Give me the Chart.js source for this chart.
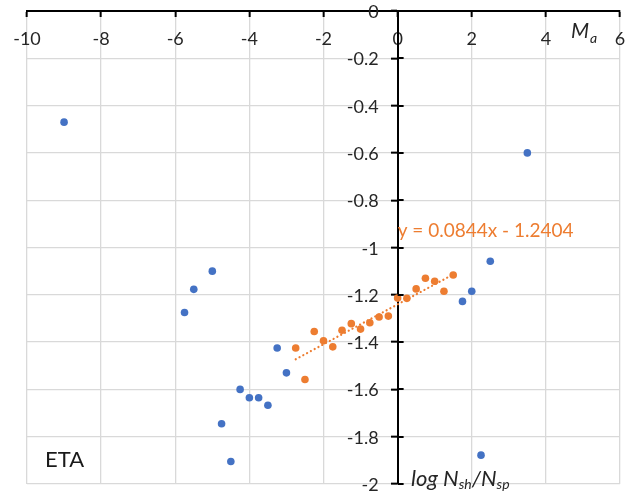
<!DOCTYPE html>
<html>
<head>
<meta charset="utf-8">
<title>ETA</title>
<script src="https://cdn.jsdelivr.net/npm/chart.js@4.4.1/dist/chart.umd.min.js"></script>
<style>
    html, body { margin: 0; padding: 0; background: #fff; }
    #wrap { width: 634px; height: 492px; }
</style>
</head>
<body>
<div id="wrap"><canvas id="eta-chart" width="634" height="492"></canvas></div>
<script>
// blue series (all galaxies)
const blueX = [-9, 3.5, -5, -5.5, -5.75, -3.25, -3, -4.25, -4, -3.75, -3.5, -4.75, -4.5, 2.5, 1.75, 2, 2.25];
const blueY = [-0.47, -0.60, -1.10, -1.177, -1.275, -1.425, -1.53, -1.60, -1.635, -1.635, -1.667, -1.745, -1.905, -1.058, -1.228, -1.185, -1.878];

// orange series (fitted subset)
const orangeX = [-2.75, -2.5, -2.25, -2, -1.75, -1.5, -1.25, -1, -0.75, -0.5, -0.25, 0, 0.25, 0.5, 0.75, 1, 1.25, 1.5];
const orangeY = [-1.425, -1.558, -1.355, -1.394, -1.42, -1.35, -1.322, -1.345, -1.318, -1.294, -1.29, -1.214, -1.215, -1.175, -1.13, -1.143, -1.185, -1.116];

// linear trendline shown on the chart
const trendSlope = 0.0844;
const trendIntercept = -1.2404;
const trendLabel = 'y = 0.0844x - 1.2404';

// axes
const xRange = [-10, 6];
const xStep = 2;
const yRange = [-2, 0];
const yStep = 0.2;

const BLUE = '#4472C4';
const ORANGE = '#ED7D31';
const TEXT = '#262626';
const FONT = 'Lato, "Liberation Sans", sans-serif';

function toPoints(xs, ys) {
    return xs.map((x, i) => ({ x: x, y: ys[i] }));
}

function trendPoints() {
    const x0 = Math.min(...orangeX);
    const x1 = Math.max(...orangeX);
    return [x0, x1].map(x => ({ x: x, y: trendSlope * x + trendIntercept }));
}

function formatTick(value) {
    return String(+value.toFixed(1));
}

// y axis sits at x = 0: Chart.js only draws the left half of its ticks and
// puts the labels right on the axis line, so finish those here
const yAxisExtras = {
    id: 'yAxisExtras',
    afterDraw(chart) {
        const { ctx, scales: { x, y } } = chart;
        const x0 = x.getPixelForValue(0);
        ctx.save();
        ctx.strokeStyle = '#000';
        ctx.lineWidth = 2;
        ctx.fillStyle = TEXT;
        ctx.font = '18px ' + FONT;
        ctx.textAlign = 'right';
        ctx.textBaseline = 'middle';
        y.ticks.forEach(t => {
            const py = Math.round(y.getPixelForValue(t.value));
            ctx.beginPath();
            ctx.moveTo(x0, py);
            ctx.lineTo(x0 + 6, py);
            ctx.stroke();
            ctx.fillText(formatTick(t.value), x0 - 19, py + 1);
        });
        ctx.restore();
    }
};

// text boxes: equation, panel name, axis titles
const annotations = {
    id: 'annotations',
    afterDraw(chart) {
        const { ctx, scales: { x, y } } = chart;
        ctx.save();

        ctx.fillStyle = ORANGE;
        ctx.font = '19px ' + FONT;
        ctx.textBaseline = 'middle';
        ctx.textAlign = 'left';
        ctx.fillText(trendLabel, x.getPixelForValue(0), y.getPixelForValue(-0.928));

        ctx.fillStyle = '#1a1a1a';
        ctx.font = '22px ' + FONT;
        ctx.fillText('ETA', 45, y.getPixelForValue(-1.9));

        ctx.fillStyle = TEXT;
        ctx.textBaseline = 'alphabetic';
        let px = 571;
        ctx.font = 'italic 21px ' + FONT;
        ctx.fillText('M', px, 38);
        px += ctx.measureText('M').width + 1;
        ctx.font = 'italic 14px ' + FONT;
        ctx.fillText('a', px, 43);

        px = 411;
        const parts = [
            ['log N', 22, 486],
            ['sh', 14, 489],
            ['/N', 22, 486],
            ['sp', 14, 489]
        ];
        parts.forEach(p => {
            ctx.font = 'italic ' + p[1] + 'px ' + FONT;
            ctx.fillText(p[0], px, p[2]);
            px += ctx.measureText(p[0]).width;
        });

        ctx.restore();
    }
};

document.addEventListener('DOMContentLoaded', function () {
    const ctx = document.getElementById('eta-chart').getContext('2d');

    new Chart(ctx, {
        type: 'scatter',
        data: {
            datasets: [
                {
                    label: 'trend',
                    type: 'line',
                    data: trendPoints(),
                    borderColor: ORANGE,
                    borderWidth: 2.2,
                    borderDash: [0.1, 4.2],
                    borderCapStyle: 'round',
                    pointRadius: 0,
                    fill: false
                },
                {
                    label: 'all',
                    data: toPoints(blueX, blueY),
                    backgroundColor: BLUE,
                    borderWidth: 0,
                    pointRadius: 3.8
                },
                {
                    label: 'fit',
                    data: toPoints(orangeX, orangeY),
                    backgroundColor: ORANGE,
                    borderWidth: 0,
                    pointRadius: 3.8
                }
            ]
        },
        options: {
            responsive: false,
            animation: false,
            layout: { padding: { left: 27, right: 14, top: 11, bottom: 8 } },
            plugins: {
                legend: { display: false },
                tooltip: { enabled: false }
            },
            scales: {
                x: {
                    type: 'linear',
                    min: xRange[0],
                    max: xRange[1],
                    position: { y: 0 },
                    grid: { color: '#d9d9d9', lineWidth: 1.3, tickColor: '#000', tickWidth: 2, tickLength: 5 },
                    border: { color: '#000', width: 2 },
                    ticks: { stepSize: xStep, padding: 12, color: TEXT, font: { family: FONT, size: 18 } },
                    afterFit(scale) {
                        scale.paddingLeft = 0;
                        scale.paddingRight = 0;
                        scale.paddingTop = 0;
                        scale.paddingBottom = 0;
                    }
                },
                y: {
                    type: 'linear',
                    min: yRange[0],
                    max: yRange[1],
                    position: { x: 0 },
                    grid: { color: '#d9d9d9', lineWidth: 1.3, tickColor: '#000', tickWidth: 2, tickLength: 6 },
                    border: { color: '#000', width: 2 },
                    ticks: { stepSize: yStep, display: false, callback: formatTick },
                    afterFit(scale) {
                        scale.paddingLeft = 0;
                        scale.paddingRight = 0;
                        scale.paddingTop = 0;
                        scale.paddingBottom = 0;
                    }
                }
            }
        },
        plugins: [yAxisExtras, annotations]
    });
});
</script>
</body>
</html>
